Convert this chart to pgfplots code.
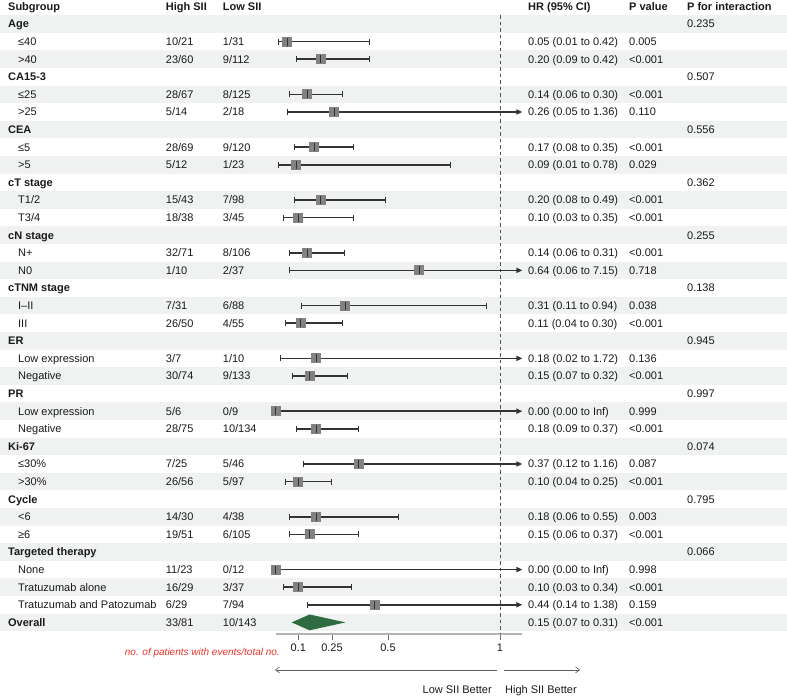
\documentclass[border=0pt]{standalone}
\usepackage{fontspec}
\setmainfont{Liberation Sans}
\usepackage{pgfplots}
\pgfplotsset{compat=1.18}
\usepackage{pgfplotstable}
\usetikzlibrary{arrows.meta}

\definecolor{rowgray}{HTML}{EFF2F1}
\definecolor{boxgray}{HTML}{828282}
\definecolor{cidark}{HTML}{333333}
\definecolor{dgreen}{HTML}{2E6B40}
\definecolor{axisgray}{HTML}{B3B3B3}
\definecolor{redtxt}{HTML}{E8332A}
\definecolor{txtc}{HTML}{1A1A1A}

\def\xG{-1.19643}
\def\xI{-1.15179}
\def\xH{-0.49241}
\def\xL{-0.23795}
\def\xC{1.125}
\def\xP{1.57589}
\def\xQ{1.83482}

\newcommand\grp[3]{\node[txt] at (axis cs:\xG,-#1) {\textbf{#2}};\node[txt] at (axis cs:\xQ,-#1) {#3};}
\newcommand\itm[6]{\node[txt] at (axis cs:\xI,-#1) {#2};\node[txt] at (axis cs:\xH,-#1) {#3};\node[txt] at (axis cs:\xL,-#1) {#4};\node[txt] at (axis cs:\xC,-#1) {#5};\node[txt] at (axis cs:\xP,-#1) {#6};}
\newcommand\rowbg[2]{\fill[rowgray] (axis cs:-1.23214,#1) rectangle (axis cs:2.28125,#2);}

\pgfplotstableread{
y hr lo hi
-2 0.05 0.01 0.42
-3 0.20 0.09 0.42
-5 0.14 0.06 0.30
-8 0.17 0.08 0.35
-9 0.09 0.01 0.78
-11 0.20 0.08 0.49
-12 0.10 0.03 0.35
-14 0.14 0.06 0.31
-17 0.31 0.11 0.94
-18 0.11 0.04 0.30
-21 0.15 0.07 0.32
-24 0.18 0.09 0.37
-27 0.10 0.04 0.25
-29 0.18 0.06 0.55
-30 0.15 0.06 0.37
-33 0.10 0.03 0.34
}\cinorm

\pgfplotstableread{
y hr lo hi
-6 0.26 0.05 1.36
-15 0.64 0.06 7.15
-20 0.18 0.02 1.72
-23 0.00 0.00 99
-26 0.37 0.12 1.16
-32 0.00 0.00 99
-34 0.44 0.14 1.38
}\ciarrow

\begin{document}
\begin{tikzpicture}[txt/.style={anchor=west, font=\fontsize{11}{13}\selectfont, text=txtc, inner sep=0pt, text height=7.9pt, text depth=0pt}]
\begin{axis}[
  scale only axis, width=246.4pt, height=634pt,
  xmin=0, xmax=1.1, ymin=-35.6591, ymax=0.3636,
  axis x line*=bottom, axis y line=none,
  xtick={0.1,0.25,0.5,1}, xticklabels={0.1,0.25,0.5,1},
  tick align=outside, major tick length=6pt,
  x axis line style={color=axisgray, line width=1.3pt},
  xtick style={color=cidark!70, line width=0.6pt},
  xticklabel style={font=\fontsize{11}{13}\selectfont, text=txtc},
  /pgf/number format/assume math mode=true,
  clip=false,
]
% background rows
\rowbg{-0.5}{-1.5}\rowbg{-2.5}{-3.5}\rowbg{-4.5}{-5.5}\rowbg{-6.5}{-7.5}
\rowbg{-8.5}{-9.5}\rowbg{-10.5}{-11.5}\rowbg{-12.5}{-13.5}\rowbg{-14.5}{-15.5}
\rowbg{-16.5}{-17.5}\rowbg{-18.5}{-19.5}\rowbg{-20.5}{-21.5}\rowbg{-22.5}{-23.5}
\rowbg{-24.5}{-25.5}\rowbg{-26.5}{-27.5}\rowbg{-28.5}{-29.5}\rowbg{-30.5}{-31.5}
\rowbg{-32.5}{-33.5}\rowbg{-34.5}{-35.5}
\path (axis cs:-1.23214,0.3636) rectangle (axis cs:2.28125,-39.2386);

% reference line at HR = 1
\addplot[color=cidark!85, line width=0.8pt, dash pattern=on 3.5pt off 3pt] coordinates {(1,-0.5) (1,-35.6591)};

% confidence intervals
\addplot[cidark, line width=1.6pt, no markers,
  arrows={Bar[width=6pt,line width=1pt]-Bar[width=6pt,line width=1pt]},
  quiver={u=\thisrow{hi}-\thisrow{lo}, v=0}] table[x=lo, y=y] {\cinorm};
\addplot[cidark, line width=1.6pt, no markers,
  arrows={Bar[width=6pt,line width=1pt]-Triangle[length=6pt,width=5pt]},
  quiver={u=1.1-\thisrow{lo}, v=0}] table[x=lo, y=y] {\ciarrow};

% point estimates
\addplot[boxgray, only marks, mark=square*, mark size=4.5pt, mark options={fill=boxgray, draw=boxgray, line width=0pt}] table[x=hr, y=y] {\cinorm};
\addplot[boxgray, only marks, mark=square*, mark size=4.5pt, mark options={fill=boxgray, draw=boxgray, line width=0pt}] table[x=hr, y=y] {\ciarrow};
\addplot[cidark, only marks, mark=|, mark size=4pt, mark options={draw=cidark, line width=1pt}] table[x=hr, y=y] {\cinorm};
\addplot[cidark, only marks, mark=|, mark size=4pt, mark options={draw=cidark, line width=1pt}] table[x=hr, y=y] {\ciarrow};

% overall diamond
\addplot[fill=dgreen, draw=none] coordinates {(0.07,-35) (0.15,-34.55) (0.31,-35) (0.15,-35.45)} -- cycle;

% header
\node[txt] at (axis cs:\xG,0) {\textbf{Subgroup}};
\node[txt] at (axis cs:\xH,0) {\textbf{High SII}};
\node[txt] at (axis cs:\xL,0) {\textbf{Low SII}};
\node[txt] at (axis cs:\xC,0) {\textbf{HR (95\% CI)}};
\node[txt] at (axis cs:\xP,0) {\textbf{P value}};
\node[txt] at (axis cs:\xQ,0) {\textbf{P for interaction}};

\grp{1}{Age}{0.235}
\itm{2}{≤40}{10/21}{1/31}{0.05 (0.01 to 0.42)}{0.005}
\itm{3}{>40}{23/60}{9/112}{0.20 (0.09 to 0.42)}{<0.001}
\grp{4}{CA15-3}{0.507}
\itm{5}{≤25}{28/67}{8/125}{0.14 (0.06 to 0.30)}{<0.001}
\itm{6}{>25}{5/14}{2/18}{0.26 (0.05 to 1.36)}{0.110}
\grp{7}{CEA}{0.556}
\itm{8}{≤5}{28/69}{9/120}{0.17 (0.08 to 0.35)}{<0.001}
\itm{9}{>5}{5/12}{1/23}{0.09 (0.01 to 0.78)}{0.029}
\grp{10}{cT stage}{0.362}
\itm{11}{T1/2}{15/43}{7/98}{0.20 (0.08 to 0.49)}{<0.001}
\itm{12}{T3/4}{18/38}{3/45}{0.10 (0.03 to 0.35)}{<0.001}
\grp{13}{cN stage}{0.255}
\itm{14}{N+}{32/71}{8/106}{0.14 (0.06 to 0.31)}{<0.001}
\itm{15}{N0}{1/10}{2/37}{0.64 (0.06 to 7.15)}{0.718}
\grp{16}{cTNM stage}{0.138}
\itm{17}{I–II}{7/31}{6/88}{0.31 (0.11 to 0.94)}{0.038}
\itm{18}{III}{26/50}{4/55}{0.11 (0.04 to 0.30)}{<0.001}
\grp{19}{ER}{0.945}
\itm{20}{Low expression}{3/7}{1/10}{0.18 (0.02 to 1.72)}{0.136}
\itm{21}{Negative}{30/74}{9/133}{0.15 (0.07 to 0.32)}{<0.001}
\grp{22}{PR}{0.997}
\itm{23}{Low expression}{5/6}{0/9}{0.00 (0.00 to Inf)}{0.999}
\itm{24}{Negative}{28/75}{10/134}{0.18 (0.09 to 0.37)}{<0.001}
\grp{25}{Ki-67}{0.074}
\itm{26}{≤30\%}{7/25}{5/46}{0.37 (0.12 to 1.16)}{0.087}
\itm{27}{>30\%}{26/56}{5/97}{0.10 (0.04 to 0.25)}{<0.001}
\grp{28}{Cycle}{0.795}
\itm{29}{<6}{14/30}{4/38}{0.18 (0.06 to 0.55)}{0.003}
\itm{30}{≥6}{19/51}{6/105}{0.15 (0.06 to 0.37)}{<0.001}
\grp{31}{Targeted therapy}{0.066}
\itm{32}{None}{11/23}{0/12}{0.00 (0.00 to Inf)}{0.998}
\itm{33}{Tratuzumab alone}{16/29}{3/37}{0.10 (0.03 to 0.34)}{<0.001}
\itm{34}{Tratuzumab and Patozumab}{6/29}{7/94}{0.44 (0.14 to 1.38)}{0.159}
\node[txt] at (axis cs:\xG,-35) {\textbf{Overall}};
\node[txt] at (axis cs:\xH,-35) {33/81};
\node[txt] at (axis cs:\xL,-35) {10/143};
\node[txt] at (axis cs:\xC,-35) {0.15 (0.07 to 0.31)};
\node[txt] at (axis cs:\xP,-35) {<0.001};

% footer
\node[txt, anchor=east, font=\fontsize{10}{12}\selectfont\itshape, text=redtxt] at (axis cs:0.01786,-36.68) {no. of patients with events/total no.};
\draw[cidark!80, line width=0.6pt, arrows={Straight Barb[length=4pt,width=6pt]-}] (axis cs:-0.004,-37.7) -- (axis cs:0.9866,-37.7);
\draw[cidark!80, line width=0.6pt, arrows={-Straight Barb[length=4pt,width=6pt]}] (axis cs:1.0179,-37.7) -- (axis cs:1.3571,-37.7);
\node[txt, anchor=east] at (axis cs:0.964,-38.84) {Low SII Better};
\node[txt] at (axis cs:1.0223,-38.84) {High SII Better};
\end{axis}
\end{tikzpicture}
\end{document}
